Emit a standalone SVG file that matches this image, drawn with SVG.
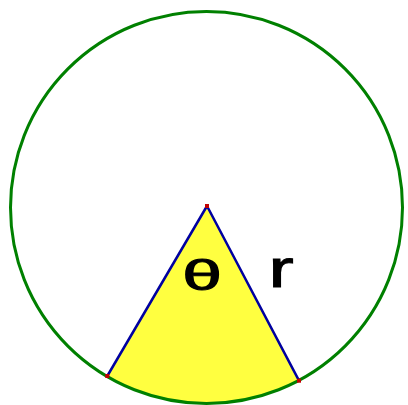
<svg xmlns="http://www.w3.org/2000/svg" width="408" height="405" viewBox="0 0 408 405">
  <style>
    .circle { fill: none; stroke: #008000; stroke-width: 3; }
    .sector { fill: #ffff40; stroke: none; }
    .radius { stroke: #0000a0; stroke-width: 2.5; fill: none; stroke-linecap: round; }
    .dot { fill: #c00000; }
    .label { font-family: "Liberation Sans", Arial, sans-serif; fill: #000; stroke: #000; }
  </style>
  <rect width="408" height="405" fill="#ffffff"/>
  <g id="sector">
    <path class="sector" d="M207,206 L107.3,376 A196,196 0 0 0 299,380.7 Z"/>
  </g>
  <g id="circle">
    <circle class="circle" cx="206.5" cy="207.5" r="196"/>
  </g>
  <g id="radii">
    <line class="radius" x1="207" y1="206" x2="107.3" y2="376"/>
    <line class="radius" x1="207" y1="206" x2="299" y2="380.7"/>
  </g>
  <g id="points">
    <rect class="dot" x="205" y="204" width="4" height="4"/>
    <rect class="dot" x="105.3" y="374" width="4" height="4"/>
    <rect class="dot" x="297" y="378.7" width="4" height="4"/>
  </g>
  <g id="labels">
    <text class="label" x="0" y="0" font-size="42" stroke-width="1" text-anchor="middle" transform="translate(202,290) scale(1.7,1)">θ</text>
    <text class="label" x="0" y="0" font-size="54" stroke-width="1" text-anchor="middle" transform="translate(281,287) scale(1.4,1)">r</text>
  </g>
</svg>
